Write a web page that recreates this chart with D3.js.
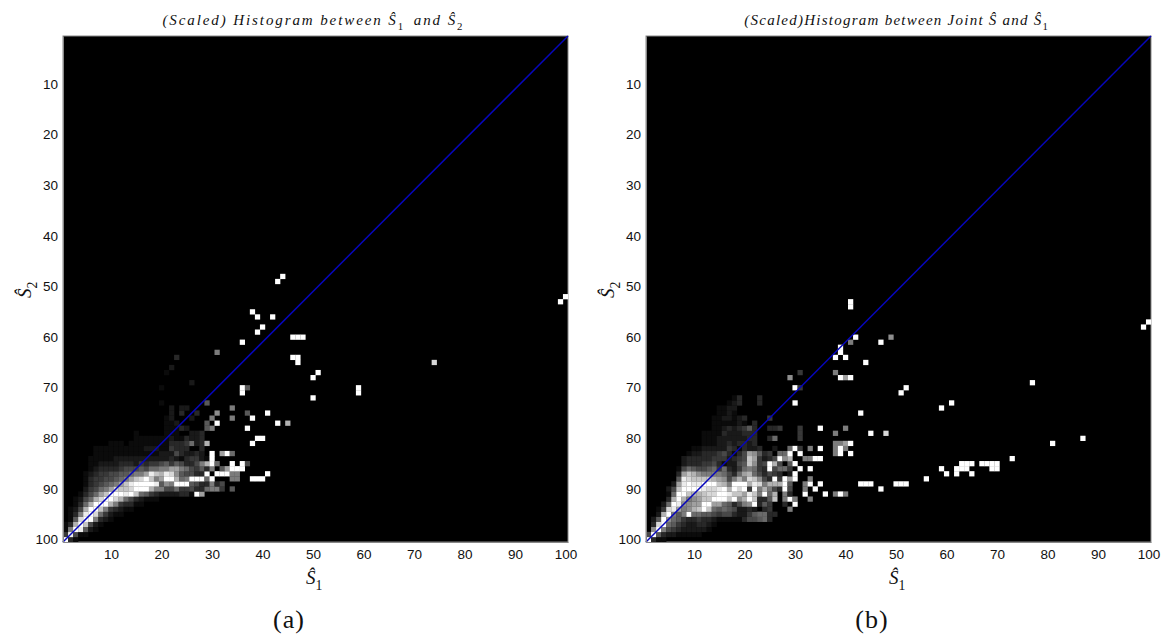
<!DOCTYPE html>
<html>
<head>
<meta charset="utf-8">
<script src="https://cdn.jsdelivr.net/npm/d3@7/dist/d3.min.js"></script>
<style>
  html, body { margin: 0; background: #fff; }
  svg { display: block; }
  .tick text { font-family: "Liberation Sans", sans-serif; font-size: 13.5px; fill: #111; }
  .math { font-family: "Liberation Serif", serif; fill: #111; }
</style>
</head>
<body>
<svg id="vis" width="1168" height="637"></svg>
<script>
const tickValues = [10, 20, 30, 40, 50, 60, 70, 80, 90, 100]

// levels are hex digits, 0 = black, f = white. each row: [row, first column, levels]
const denseA = [
  [100, 1, 'f31'],
  [99, 1, '4e511'],
  [98, 1, '18fe621'],
  [97, 1, '13bfc521'],
  [96, 2, '16dff8321'],
  [95, 2, '138efd74211'],
  [94, 2, '125bffc843211'],
  [93, 3, '137bfffb843311'],
  [92, 3, '1257bdffdb7532111'],
  [91, 4, '1357acfffefc76432222331fa'],
  [90, 5, '24578adccdfffb8855744533788406'],
  [89, 5, '1345678aceffffe698fff6533835'],
  [88, 5, '134455678acdfc8affb78fff7f00088'],
  [87, 5, '123445566788aecbed965533f0fff88'],
  [86, 6, '1233334555657788aa87546380' + '6afff'],
  [85, 6, '11222233324344564653358bf700f0f5'],
  [84, 6, '111112222222222' + '232134421f'],
  [83, 7, '1111111111111' + '22253223' + '20f0af7'],
  [82, 7, '1111111111222114333003'],
  [81, 10, '1110111111113334723b'],
  [80, 15, '11111112113223'],
  [79, 15, '10000011100223'],
  [78, 21, '1113200068'],
  [77, 21, '112000006'],
  [76, 21, '120002'],
  [75, 22, '203003'],
  [74, 22, '2022']
]
// single cells: [column, row, level]
const sparseA = [
  [44, 48, 15], [43, 49, 15], [100, 52, 15], [99, 53, 15], [38, 55, 15], [39, 56, 15],
  [42, 56, 15], [40, 58, 15], [39, 59, 15], [46, 60, 15], [47, 60, 15], [48, 60, 15],
  [36, 61, 15], [31, 63, 8], [23, 64, 3], [46, 64, 15], [47, 64, 15], [47, 65, 15],
  [74, 65, 13], [22, 66, 2], [21, 67, 1], [51, 67, 15], [50, 68, 15], [26, 69, 2],
  [20, 70, 1], [36, 70, 15], [37, 70, 6], [59, 70, 15], [36, 71, 15], [59, 71, 15],
  [50, 72, 15], [29, 73, 6], [20, 73, 1], [34, 74, 8], [31, 75, 9], [37, 75, 6],
  [41, 75, 15], [30, 76, 8], [34, 76, 8], [38, 76, 15], [31, 77, 15], [43, 77, 15],
  [45, 77, 11], [37, 78, 15], [39, 80, 15], [40, 80, 15], [38, 81, 15], [41, 87, 15],
  [38, 88, 15], [39, 88, 15], [40, 88, 15]
]

const denseB = [
  [100, 1, 'f311'],
  [99, 1, '5f632211111'],
  [98, 2, '9f8543222221'],
  [97, 2, '3df7643223321'],
  [96, 2, '26f97643343321' + '1111355673'],
  [95, 3, '2bf868f77665455322467733'],
  [94, 3, '14dea89bcfc7676522320340008'],
  [93, 4, '27fe99aaffaa763589f364003' + '0f'],
  [92, 5, '3bfb89accfffcf9bfc336c08f8008'],
  [91, 5, '17ffcbbcddffeccaec8f7b08300f'],
  [90, 5, '25cffffeddefbfdf4f8b853f5008' + '0f'],
  [89, 6, '2aefeefffcb8fffbed8bbbf6008f0f'],
  [88, 7, '6edccccba958b8dc953f4faf008'],
  [87, 7, '3acb98888753' + '7ab75354302f'],
  [86, 7, '157655674732478743f57740f0f'],
  [85, 8, '233344531225' + '6c945fb506f'],
  [84, 8, '233333444234' + '5ca4235f9b0088ff'],
  [83, 9, '12233345313' + '5a9634077f0f'],
  [82, 10, '1122222431' + '3223002007f4080f'],
  [81, 12, '11122323' + '323'],
  [80, 12, '11122222' + '233003700004'],
  [79, 12, '11113222' + '333000000004'],
  [78, 14, '112323' + '463003340004'],
  [77, 14, '111112' + '103'],
  [76, 14, '112212' + '300004'],
  [75, 15, '1121'],
  [74, 15, '112'],
  [73, 17, '121'],
  [72, 18, '13']
]
const sparseB = [
  [41, 53, 15], [41, 54, 15], [100, 57, 15], [99, 58, 15], [42, 60, 15], [49, 60, 9],
  [41, 61, 8], [47, 61, 15], [39, 62, 15], [39, 63, 15], [38, 64, 15], [40, 64, 15],
  [44, 65, 15], [31, 67, 4], [38, 67, 8], [29, 68, 9], [39, 68, 15], [40, 68, 10],
  [41, 68, 15], [77, 69, 15], [30, 70, 15], [31, 70, 4], [52, 70, 15], [51, 71, 15],
  [23, 72, 3], [23, 73, 3], [19, 73, 3], [30, 73, 15], [61, 73, 15], [18, 74, 2],
  [59, 74, 15], [43, 75, 15], [35, 78, 15], [40, 78, 8], [38, 79, 8], [45, 79, 15],
  [48, 79, 13], [87, 80, 15], [38, 81, 8], [39, 81, 8], [40, 81, 10], [41, 81, 15],
  [81, 81, 15], [38, 82, 8], [39, 82, 15], [40, 82, 8], [38, 83, 8], [39, 83, 15],
  [41, 83, 15], [73, 84, 15], [63, 85, 15], [64, 85, 15], [65, 85, 15], [67, 85, 15],
  [68, 85, 15], [69, 85, 15], [70, 85, 15], [59, 86, 15], [62, 86, 15], [63, 86, 15],
  [64, 86, 15], [69, 86, 15], [70, 86, 15], [60, 87, 15], [62, 87, 15], [65, 87, 15],
  [56, 88, 15], [43, 89, 15], [44, 89, 15], [45, 89, 15], [50, 89, 15], [51, 89, 15],
  [52, 89, 15], [47, 90, 15], [36, 91, 15], [38, 91, 8], [39, 91, 15], [40, 91, 8]
]

const x0Panels = [63, 646]

const gray = d3.scalePow().exponent(1.15).domain([0, 15]).range(['#000', '#fff'])

function toCells (dense, sparse) {
  const cells = []
  for (const [row, start, levels] of dense) {
    levels.split('').forEach((ch, i) => {
      cells.push({ col: start + i, row, level: parseInt(ch, 16) })
    })
  }
  for (const [col, row, level] of sparse) cells.push({ col, row, level })
  return cells.filter(d => d.level > 0)
}

// text pieces: plain math italic, hat letter and a small upright subscript
function mathText (el, parts, size) {
  for (const p of parts) {
    if (p.sub) {
      el.append('tspan').attr('dy', size * 0.3).attr('font-size', size * 0.72)
        .attr('font-style', 'normal').text(p.sub)
      el.append('tspan').attr('dy', -size * 0.3).text('\u200a')
    } else {
      el.append('tspan').attr('font-style', 'italic').text(p.text)
    }
  }
}

const svg = d3.select('#vis')

function panel (x0, cells, title, titleSpacing, yName, letter) {
  const x = d3.scaleLinear().domain([0.5, 100.5]).range([x0, x0 + 505])
  const y = d3.scaleLinear().domain([0.5, 100.5]).range([36, 542])
  const g = svg.append('g')

  g.append('rect')
    .attr('x', x(0.5)).attr('y', y(0.5))
    .attr('width', x(100.5) - x(0.5)).attr('height', y(100.5) - y(0.5))
    .attr('fill', '#000').attr('stroke', '#888').attr('stroke-width', 1)

  g.selectAll('rect.cell')
    .data(cells)
    .enter()
    .append('rect')
    .attr('class', 'cell')
    .attr('x', d => x(d.col - 0.5))
    .attr('y', d => y(d.row - 0.5))
    .attr('width', x(1.5) - x(0.5) + 0.2)
    .attr('height', y(1.5) - y(0.5) + 0.2)
    .attr('fill', d => gray(d.level))

  g.append('line')
    .attr('x1', x(0.5)).attr('y1', y(100.5))
    .attr('x2', x(100.5)).attr('y2', y(0.5))
    .attr('stroke', '#0606bc').attr('stroke-width', 1.5)

  g.append('g')
    .attr('transform', `translate(0,${y(100.5)})`)
    .call(d3.axisBottom(x).tickValues(tickValues).tickSize(0).tickPadding(7))
    .call(a => a.select('.domain').attr('stroke', '#888'))

  g.append('g')
    .attr('transform', `translate(${x(0.5)},0)`)
    .call(d3.axisLeft(y).tickValues(tickValues).tickSize(0).tickPadding(5))
    .call(a => a.select('.domain').attr('stroke', '#888'))

  const titleText = g.append('text').attr('class', 'math')
    .attr('x', x0 + 252).attr('y', 25)
    .attr('text-anchor', 'middle').attr('font-size', 15)
    .attr('letter-spacing', titleSpacing)
  mathText(titleText, title, 15)

  const xl = g.append('text').attr('class', 'math')
    .attr('x', x0 + 252).attr('y', 584)
    .attr('text-anchor', 'middle').attr('font-size', 19)
  mathText(xl, [{ text: '\u015c' }, { sub: '1' }], 19)

  const yl = g.append('text').attr('class', 'math')
    .attr('transform', `translate(${x0 - 32},${y(50.5)}) rotate(-90)`)
    .attr('text-anchor', 'middle').attr('font-size', 19)
  mathText(yl, [{ text: '\u015c' }, { sub: yName }], 19)

  g.append('text').attr('class', 'math')
    .attr('x', x0 + 226).attr('y', 628)
    .attr('text-anchor', 'middle').attr('font-size', 26)
    .attr('letter-spacing', 1)
    .text(letter)
}

panel(x0Panels[0], toCells(denseA, sparseA), [
  { text: '(Scaled) Histogram between \u015c' }, { sub: '1' },
  { text: ' and \u015c' }, { sub: '2' }
], 1.9, '2', '(a)')

panel(x0Panels[1], toCells(denseB, sparseB), [
  { text: '(Scaled)Histogram between Joint \u015c and \u015c' }, { sub: '1' }
], 1.25, '2', '(b)')
</script>
</body>
</html>
